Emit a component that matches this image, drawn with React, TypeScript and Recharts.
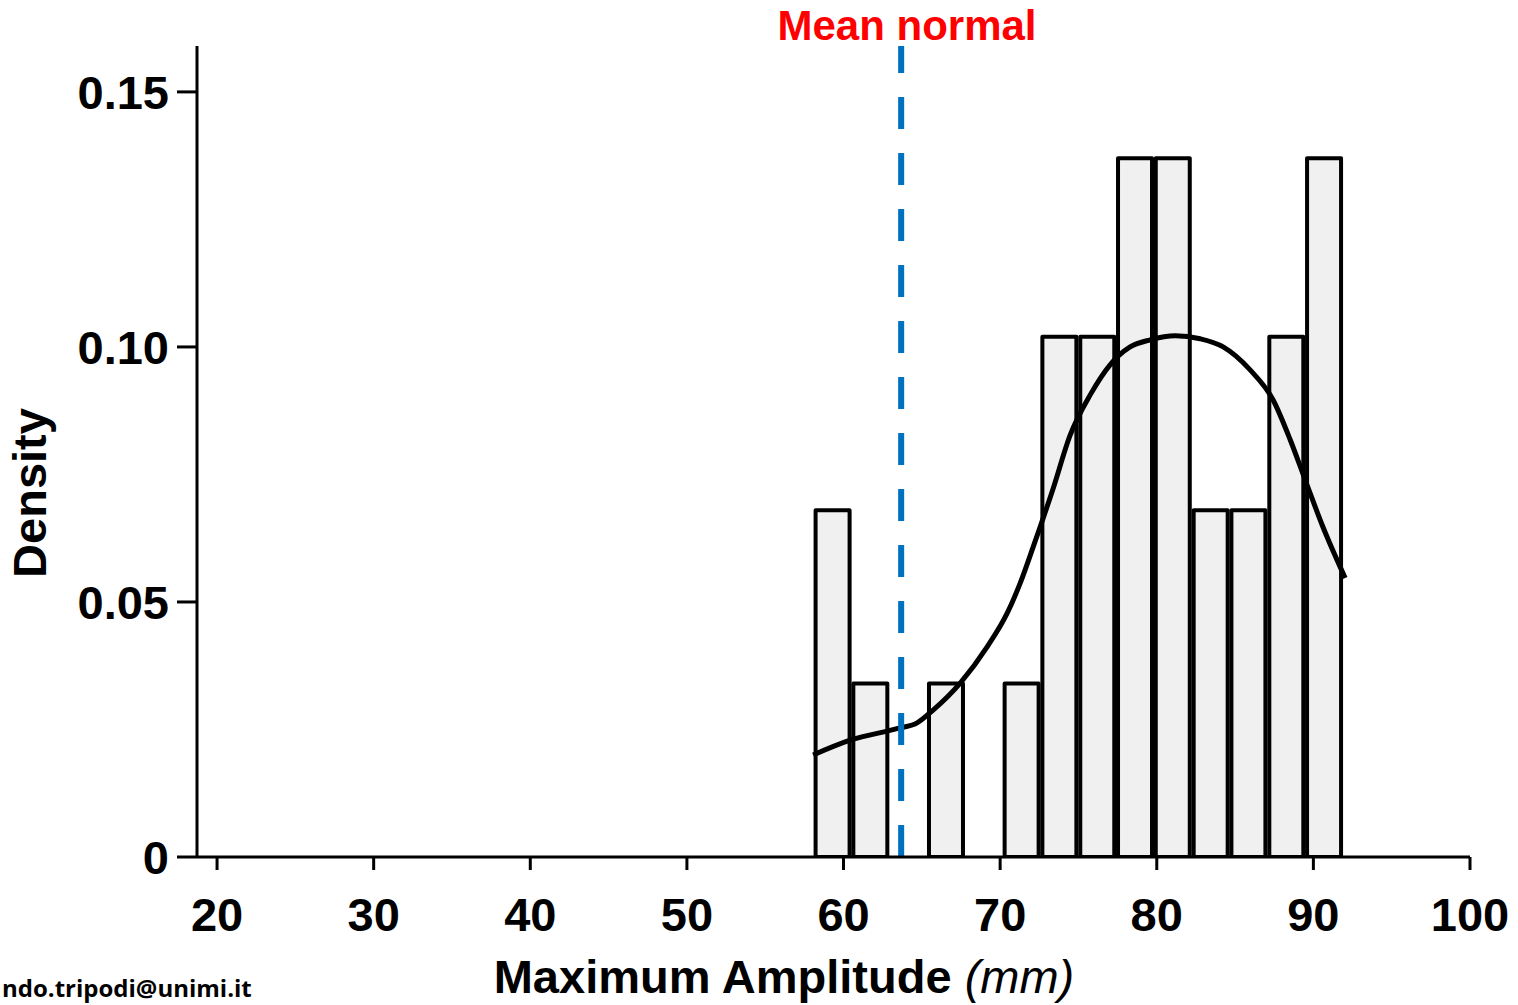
import { ComposedChart, Bar, Line, XAxis, YAxis, ReferenceLine } from "recharts";

// histogram bins (centre of each bin, mm) and their density
const BIN_CENTERS = [59.31, 61.72, 64.14, 66.55, 68.97, 71.38, 73.79, 76.21, 78.62, 81.03, 83.45, 85.86, 88.28, 90.69];
const BIN_DENSITY = [0.068, 0.034, 0, 0.034, 0, 0.034, 0.102, 0.102, 0.137, 0.137, 0.068, 0.068, 0.102, 0.137];

// kernel density curve
const KDE_X = [58.06, 60.42, 63.61, 64.7, 65.72, 67.45, 69.17, 70.45, 71.28, 72.11, 73.38, 74.47, 75.75, 77.02, 78.3, 79.58, 81.18, 82.77, 84.24, 85.96, 87.43, 88.52, 89.48, 90.56, 92.03];
const KDE_Y = [0.02, 0.0229, 0.0253, 0.0263, 0.0288, 0.0341, 0.0412, 0.0478, 0.0537, 0.0608, 0.0722, 0.0827, 0.0906, 0.0965, 0.1, 0.1014, 0.1022, 0.1016, 0.1, 0.0955, 0.0896, 0.0818, 0.0739, 0.0651, 0.0547];

const X_TICKS = [20, 30, 40, 50, 60, 70, 80, 90, 100];
const Y_TICKS = [0, 0.05, 0.1, 0.15];
const Y_TICK_LABELS = ["0", "0.05", "0.10", "0.15"];
const MEAN_NORMAL = 63.68;

const BAR_W = 34;

type Point = { x: number; density?: number; kde?: number };

const data: Point[] = [
  ...BIN_CENTERS.map((x, i) => ({ x, density: BIN_DENSITY[i] > 0 ? BIN_DENSITY[i] : undefined })),
  ...KDE_X.map((x, i) => ({ x, kde: KDE_Y[i] })),
].sort((a, b) => a.x - b.x);

const FONT = "'Liberation Sans', Arial, sans-serif";
const tickStyle = { fill: "#000", fontSize: 47, fontWeight: 700, fontFamily: FONT };

// numeric x axis gives bars almost no width, so draw each one centred on its bin
function BinBar(props: any) {
  const { x, y, width, height } = props;
  if (!height || height <= 0) return null;
  const cx = x + width / 2;
  return (
    <rect
      x={cx - BAR_W / 2}
      y={y}
      width={BAR_W}
      height={height}
      fill="#f0f0f0"
      stroke="#000"
      strokeWidth={4}
      strokeLinejoin="round"
    />
  );
}

export default function App() {
  return (
    <div style={{ position: "absolute", left: 0, top: 0, width: 1518, height: 1005, background: "#fff" }}>
      <ComposedChart width={1518} height={1005} data={data} margin={{ top: 46, right: 48, bottom: 0, left: 0 }}>
        <XAxis
          dataKey="x"
          type="number"
          domain={[18.72, 100]}
          ticks={X_TICKS}
          allowDataOverflow
          height={148}
          tick={tickStyle}
          tickSize={13}
          tickMargin={28}
          axisLine={{ stroke: "#000", strokeWidth: 3 }}
          tickLine={{ stroke: "#000", strokeWidth: 3 }}
        />
        <YAxis
          type="number"
          domain={[0, 0.159]}
          ticks={Y_TICKS}
          allowDataOverflow
          width={197}
          tick={tickStyle}
          tickFormatter={(v: number) => Y_TICK_LABELS[Y_TICKS.indexOf(v)] ?? String(v)}
          tickSize={20}
          tickMargin={8}
          axisLine={{ stroke: "#000", strokeWidth: 3 }}
          tickLine={{ stroke: "#000", strokeWidth: 3 }}
        />
        <Bar dataKey="density" shape={<BinBar />} isAnimationActive={false} />
        <Line
          dataKey="kde"
          type="monotone"
          stroke="#000"
          strokeWidth={5}
          dot={false}
          activeDot={false}
          connectNulls
          isAnimationActive={false}
        />
        <ReferenceLine x={MEAN_NORMAL} stroke="#0070c0" strokeWidth={6} strokeDasharray="32 24" />
      </ComposedChart>
      <svg width={1518} height={1005} style={{ position: "absolute", left: 0, top: 0, pointerEvents: "none" }}>
        <text x={907} y={40} textAnchor="middle" fill="#ff0000" fontSize={42} fontWeight={700} fontFamily={FONT}>
          Mean normal
        </text>
        <text
          x={46}
          y={493}
          transform="rotate(-90, 46, 493)"
          textAnchor="middle"
          fill="#000"
          fontSize={47}
          fontWeight={700}
          fontFamily={FONT}
        >
          Density
        </text>
        <text x={784} y={993} textAnchor="middle" fill="#000" fontSize={47} fontFamily={FONT}>
          <tspan fontWeight={700}>Maximum Amplitude</tspan>
          <tspan fontStyle="italic"> (mm)</tspan>
        </text>
        <text x={2} y={997} fill="#000" fontSize={24} fontWeight={700} fontFamily="'Open Sans', sans-serif">
          ndo.tripodi@unimi.it
        </text>
      </svg>
    </div>
  );
}
